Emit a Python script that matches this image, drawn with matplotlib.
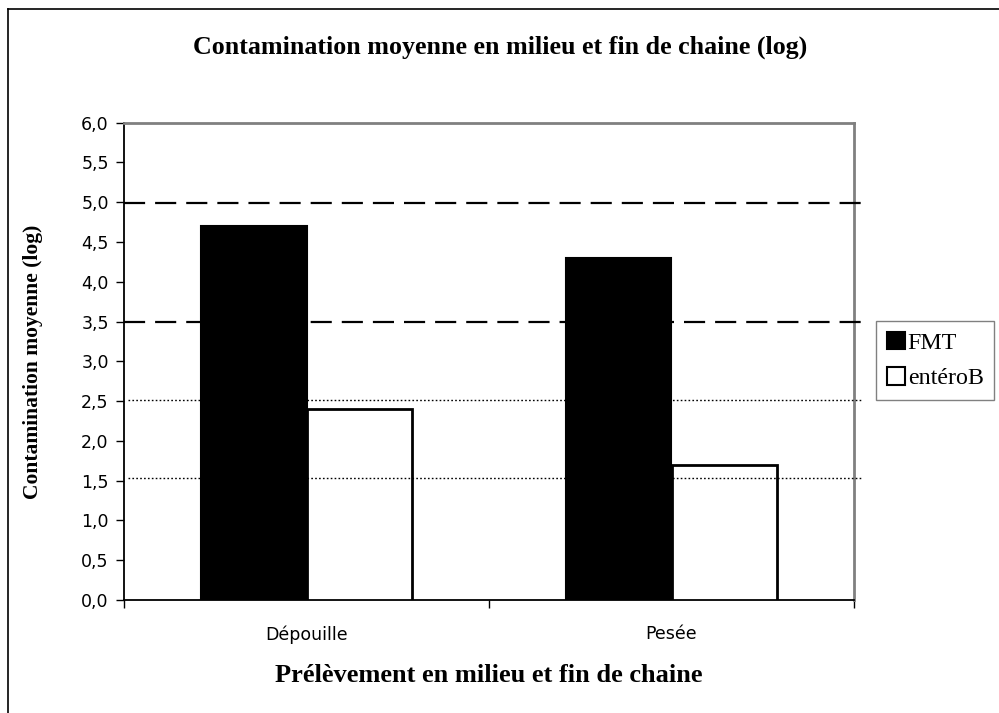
import numpy as np
import matplotlib
matplotlib.use("Agg")
import matplotlib.pyplot as plt
from matplotlib.patches import Patch
from matplotlib.lines import Line2D
import matplotlib.transforms as mtransforms

# data
categories = ["Dépouille", "Pesée"]
fmt_values = [4.7, 4.3]
entero_values = [2.4, 1.7]
series_names = ["FMT", "entéroB"]
dashed_levels = [4.99, 3.5]
dotted_levels = [2.51, 1.53]
yticks = np.arange(0, 6.01, 0.5)

W, H = 999, 713
fig = plt.figure(figsize=(W / 100, H / 100), dpi=100)
fig.patch.set_facecolor("white")

serif = "Liberation Serif"
sans = "DejaVu Sans"

# plot area in pixel coordinates
left, right, top, bottom = 124, 854, 122.7, 600
ax = fig.add_axes([left / W, 1 - bottom / H, (right - left) / W, (bottom - top) / H])

x = np.arange(len(categories))
bw = 0.29
ax.bar(x - bw / 2, fmt_values, bw, color="black", edgecolor="black", linewidth=1.5, zorder=3)
ax.bar(x + bw / 2, entero_values, bw, color="white", edgecolor="black", linewidth=2, zorder=3)

ax.set_xlim(-0.5, len(categories) - 0.5)
ax.set_ylim(0, 6)

# reference lines, running a bit past the right edge
trans = mtransforms.blended_transform_factory(ax.transAxes, ax.transData)
for lvl in dashed_levels:
    ax.plot([0, 1.011], [lvl, lvl], transform=trans, color="black", lw=1.6,
            dashes=(9.5, 4.5), clip_on=False, zorder=4)
for lvl in dotted_levels:
    ax.plot([0.005, 1.011], [lvl, lvl], transform=trans, color="black", lw=1.0,
            dashes=(1.2, 1.6), clip_on=False, zorder=4)

# ticks
ax.set_yticks(yticks)
ax.set_yticklabels([f"{v:.1f}".replace(".", ",") for v in yticks], fontfamily=sans, fontsize=12.5)
ax.set_xticks([-0.5, 0.5, 1.5], minor=False)
ax.set_xticklabels([])
ax.set_xticks(x, minor=True)
ax.set_xticklabels(categories, minor=True, fontfamily=sans, fontsize=12.5)
ax.tick_params(axis="x", which="minor", length=0, pad=18)
ax.tick_params(axis="x", which="major", length=6, width=1, direction="out")
ax.tick_params(axis="y", length=6, width=1, direction="out", pad=5)

for s in ["left", "bottom"]:
    ax.spines[s].set_color("black")
    ax.spines[s].set_linewidth(1.3)
for s in ["top", "right"]:
    ax.spines[s].set_color("#808080")
    ax.spines[s].set_linewidth(2)

ax.set_ylabel("Contamination moyenne (log)", fontfamily=serif, fontweight="bold",
              fontsize=15.5)
ax.yaxis.set_label_coords((33 - left) / (right - left), 0.5)
ax.set_xlabel("Prélèvement en milieu et fin de chaine", fontfamily=serif,
              fontweight="bold", fontsize=19)
ax.xaxis.set_label_coords(0.5, -(675 - bottom) / (bottom - top))
ax.xaxis.label.set_va("center")
ax.yaxis.label.set_va("center")

fig.text(500 / W, 1 - 47 / H, "Contamination moyenne en milieu et fin de chaine (log)",
         ha="center", va="center", fontfamily=serif, fontweight="bold", fontsize=18.7)

# legend
handles = [Patch(facecolor="black", edgecolor="black", linewidth=1.5),
           Patch(facecolor="white", edgecolor="black", linewidth=1.5)]
leg = fig.legend(handles, series_names, loc="upper left",
                 bbox_to_anchor=(876 / W, 1 - 321 / H),
                 prop={"family": serif, "size": 17.3}, frameon=True, fancybox=False,
                 handlelength=0.75, handleheight=0.75, handletextpad=0.12,
                 borderpad=0.45, labelspacing=0.55, borderaxespad=0)
leg.get_frame().set_edgecolor("#606060")
leg.get_frame().set_linewidth(1)

# outer chart frame (left and top edges visible)
fig.add_artist(Line2D([8 / W, 8 / W], [0, 1 - 9 / H], transform=fig.transFigure,
                      color="black", lw=1.2))
fig.add_artist(Line2D([8 / W, 1], [1 - 9 / H, 1 - 9 / H], transform=fig.transFigure,
                      color="black", lw=1.2))

fig.savefig("out.png", dpi=100, facecolor="white")
